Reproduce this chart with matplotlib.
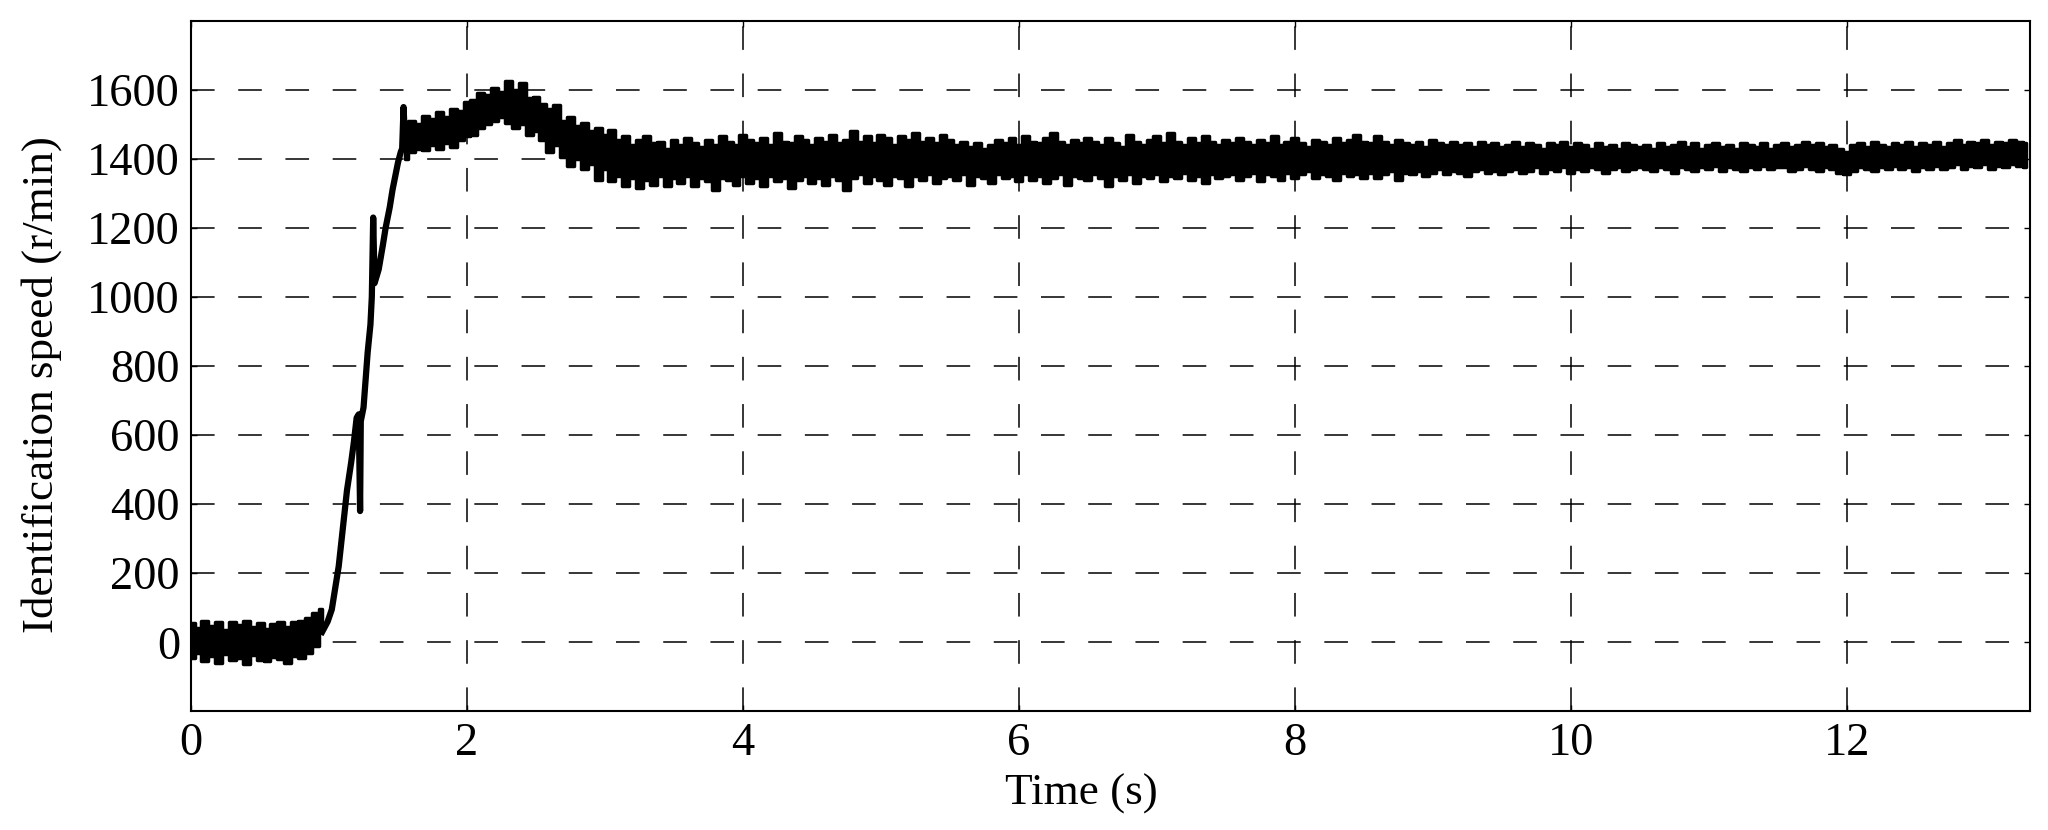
import numpy as np
import matplotlib
matplotlib.use("Agg")
import matplotlib.pyplot as plt

plt.rcParams["font.family"] = ["Liberation Serif", "DejaVu Serif"]

# --- data (r/min) ---
# standstill noise, 0 .. 0.95 s every 0.05 s: upper / lower edge of the trace
t_rest = np.arange(0, 1.0, 0.05)
rest_hi = [55, 40, 62, 48, 60, 35, 58, 50, 62, 45, 55, 38, 52, 60, 45, 58, 62, 70, 85, 95]
rest_lo = [-45, -30, -55, -40, -60, -35, -50, -45, -62, -38,
           -50, -55, -42, -48, -60, -40, -45, -30, -10, 40]

# acceleration ramp
ramp_t = [0.95, 0.99, 1.02, 1.05, 1.07, 1.10, 1.13, 1.16, 1.18, 1.20, 1.215, 1.225,
          1.23, 1.25, 1.28, 1.30, 1.31, 1.32, 1.33, 1.36, 1.39, 1.41, 1.44, 1.46,
          1.48, 1.50, 1.52, 1.53, 1.54, 1.55, 1.57]
ramp_v = [30, 60, 95, 170, 220, 330, 440, 520, 580, 650, 660, 380,
          640, 680, 840, 920, 1000, 1230, 1040, 1080, 1150, 1200, 1260, 1310,
          1350, 1390, 1420, 1430, 1550, 1460, 1480]

# running part, 1.55 .. 13.30 s every 0.05 s: upper / lower edge of the trace
t_run = np.linspace(1.55, 13.30, 236)
run_hi = [
    1470, 1510, 1500, 1525, 1515, 1535, 1520, 1545, 1540, 1565, 1570, 1590, 1585, 1605, 1595, 1625, 1600, 1620, 1575, 1580,
    1560, 1545, 1555, 1510, 1520, 1495, 1505, 1480, 1490, 1470, 1485, 1455, 1465, 1440, 1455, 1465, 1445, 1450, 1430, 1455,
    1440, 1460, 1445, 1435, 1455, 1440, 1465, 1450, 1440, 1470, 1455, 1445, 1460, 1440, 1475, 1450, 1445, 1465, 1455, 1440,
    1460, 1450, 1470, 1445, 1455, 1480, 1450, 1465, 1445, 1470, 1460, 1440, 1465, 1455, 1475, 1450, 1460, 1445, 1470, 1455,
    1440, 1450, 1435, 1445, 1430, 1440, 1455, 1445, 1460, 1440, 1465, 1450, 1445, 1460, 1475, 1450, 1440, 1455, 1445, 1460,
    1450, 1440, 1460, 1445, 1435, 1470, 1450, 1440, 1455, 1465, 1445, 1475, 1450, 1440, 1460, 1445, 1465, 1450, 1440, 1455,
    1445, 1460, 1450, 1440, 1455, 1445, 1465, 1440, 1450, 1460, 1445, 1435, 1455, 1450, 1440, 1460, 1445, 1455, 1470, 1450,
    1445, 1465, 1450, 1440, 1455, 1445, 1440, 1450, 1435, 1455, 1445, 1440, 1450, 1440, 1445, 1435, 1450, 1440, 1445, 1435,
    1440, 1450, 1435, 1445, 1440, 1430, 1445, 1440, 1450, 1435, 1445, 1440, 1430, 1445, 1435, 1440, 1430, 1445, 1440, 1435,
    1440, 1430, 1445, 1435, 1440, 1450, 1435, 1445, 1430, 1440, 1445, 1435, 1440, 1430, 1445, 1440, 1435, 1445, 1430, 1440,
    1445, 1435, 1440, 1450, 1440, 1445, 1435, 1440, 1430, 1420, 1440, 1445, 1435, 1450, 1440, 1435, 1445, 1440, 1450, 1435,
    1445, 1440, 1450, 1435, 1445, 1455, 1440, 1450, 1445, 1455, 1440, 1450, 1445, 1455, 1450, 1445,
]
run_lo = [
    1400, 1420, 1430, 1425, 1440, 1430, 1445, 1435, 1455, 1465, 1470, 1490, 1500, 1510, 1520, 1505, 1490, 1500, 1470, 1480,
    1455, 1420, 1440, 1405, 1380, 1400, 1370, 1385, 1340, 1370, 1335, 1350, 1320, 1345, 1315, 1340, 1325, 1350, 1320, 1345,
    1330, 1350, 1320, 1345, 1335, 1310, 1345, 1340, 1325, 1350, 1330, 1345, 1320, 1350, 1335, 1345, 1315, 1340, 1350, 1330,
    1345, 1325, 1350, 1340, 1310, 1345, 1355, 1330, 1350, 1340, 1325, 1350, 1345, 1320, 1350, 1340, 1355, 1330, 1345, 1350,
    1340, 1355, 1325, 1350, 1345, 1330, 1355, 1345, 1350, 1335, 1355, 1340, 1350, 1330, 1345, 1355, 1325, 1350, 1345, 1340,
    1355, 1345, 1320, 1350, 1340, 1355, 1330, 1350, 1345, 1355, 1335, 1350, 1345, 1360, 1340, 1350, 1330, 1355, 1345, 1350,
    1355, 1340, 1350, 1360, 1335, 1355, 1350, 1340, 1360, 1345, 1355, 1365, 1345, 1355, 1350, 1340, 1360, 1350, 1355, 1345,
    1360, 1345, 1355, 1365, 1340, 1360, 1355, 1365, 1350, 1360, 1370, 1355, 1365, 1360, 1350, 1365, 1370, 1360, 1365, 1355,
    1365, 1370, 1360, 1365, 1375, 1360, 1370, 1365, 1375, 1360, 1370, 1365, 1375, 1370, 1360, 1370, 1375, 1365, 1370, 1375,
    1370, 1365, 1375, 1370, 1360, 1375, 1370, 1365, 1375, 1370, 1380, 1365, 1375, 1370, 1365, 1375, 1370, 1380, 1370, 1375,
    1375, 1365, 1370, 1380, 1370, 1365, 1375, 1370, 1360, 1355, 1365, 1375, 1370, 1365, 1375, 1370, 1380, 1370, 1375, 1365,
    1375, 1370, 1380, 1370, 1375, 1385, 1370, 1380, 1375, 1385, 1370, 1380, 1375, 1385, 1380, 1375,
]

x_ticks = [0, 2, 4, 6, 8, 10, 12]
y_ticks = [0, 200, 400, 600, 800, 1000, 1200, 1400, 1600]

fig = plt.figure(figsize=(20.48, 8.30), dpi=100)
ax = fig.add_axes([0.0933, 0.143, 0.898, 0.832])

# trace
ax.fill_between(t_rest, rest_lo, rest_hi, step="mid", color="black", lw=2.5, zorder=3)
ax.plot(ramp_t, ramp_v, color="black", lw=4.5, solid_joinstyle="round", zorder=3)
ax.fill_between(t_run, run_lo, run_hi, step="mid", color="black", lw=2.5, zorder=3)

ax.set_xlim(0, 13.33)
ax.set_ylim(-200, 1800)
ax.set_xticks(x_ticks)
ax.set_yticks(y_ticks)

lw = 1.1
ax.grid(True, color="black", linewidth=lw, linestyle=(0, (17 / lw, 17 / lw)))
ax.set_axisbelow(True)

for s in ax.spines.values():
    s.set_linewidth(1.5)
ax.tick_params(direction="in", length=4, width=1, top=True, right=True,
               labelsize=33.5, pad=8)

ax.set_xlabel("Time (s)", fontsize=32.5)
ax.set_ylabel("Identification speed (r/min)", fontsize=32.5)
ax.xaxis.set_label_coords(0.484, -0.09)
ax.yaxis.set_label_coords(-0.07, 0.4725)

fig.savefig("out.png", dpi=100)
